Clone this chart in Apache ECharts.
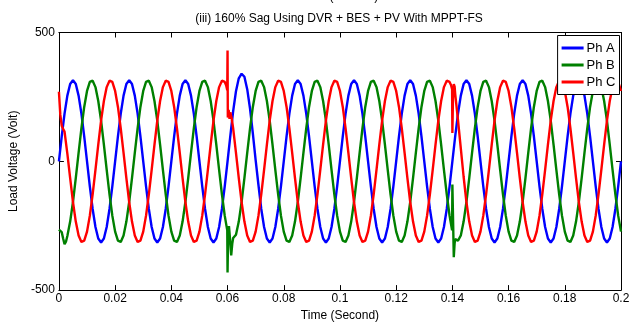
<!DOCTYPE html>
<html>
<head>
<meta charset="utf-8">
<script src="https://cdn.jsdelivr.net/npm/echarts@6/dist/echarts.min.js"></script>
<style>
  html, body { margin: 0; padding: 0; background: #fff; }
  #chart { width: 635px; height: 327px; }
</style>
</head>
<body>
<div id="chart"></div>
<script>
// Load voltages, one sample per millisecond from t = 0 to t = 0.2 s (Volt)
const SAMPLE_STEP = 0.001;

const phA = [
  0,97,185,255,300,315,300,255,185,97,0,-97,-185,-255,-300,-315,-300,-255,-185,-97,
  0,97,185,255,300,315,300,255,185,97,0,-97,-185,-255,-300,-315,-300,-255,-185,-97,
  0,97,185,255,300,315,300,255,185,97,0,-97,-185,-255,-300,-315,-300,-255,-185,-97,
  0,100,195,272,322,340,328,280,205,108,5,-92,-185,-255,-300,-315,-300,-255,-185,-97,
  0,97,185,255,300,315,300,255,185,97,0,-97,-185,-255,-300,-315,-300,-255,-185,-97,
  0,97,185,255,300,315,300,255,185,97,0,-97,-185,-255,-300,-315,-300,-255,-185,-97,
  0,97,185,255,300,315,300,255,185,97,0,-97,-185,-255,-300,-315,-300,-255,-185,-97,
  0,97,185,255,300,315,300,255,185,97,0,-97,-185,-255,-300,-315,-300,-255,-185,-97,
  0,97,185,255,300,315,300,255,185,97,0,-97,-185,-255,-300,-315,-300,-255,-185,-97,
  0,97,185,255,300,315,300,255,185,97,0,-97,-185,-255,-300,-315,-300,-255,-185,-97,
  0
];

const phB = [
  -265,-275,-322,-290,-234,-158,-65,33,128,211,273,308,313,288,234,158,65,-33,-128,-211,
  -273,-308,-313,-288,-234,-158,-65,33,128,211,273,308,313,288,234,158,65,-33,-128,-211,
  -273,-308,-313,-288,-234,-158,-65,33,128,211,273,308,313,288,234,158,65,-33,-128,-211,
  -432,-320,-298,-285,-234,-158,-65,33,128,211,273,308,313,288,234,158,65,-33,-128,-211,
  -273,-308,-313,-288,-234,-158,-65,33,128,211,273,308,313,288,234,158,65,-33,-128,-211,
  -273,-308,-313,-288,-234,-158,-65,33,128,211,273,308,313,288,234,158,65,-33,-128,-211,
  -273,-308,-313,-288,-234,-158,-65,33,128,211,273,308,313,288,234,158,65,-33,-128,-211,
  -90,-302,-308,-288,-234,-158,-65,33,128,211,273,308,313,288,234,158,65,-33,-128,-211,
  -273,-308,-313,-288,-234,-158,-65,33,128,211,273,308,313,288,234,158,65,-33,-128,-211,
  -273,-308,-313,-288,-234,-158,-65,33,128,211,273,308,313,288,234,158,65,-33,-128,-211,
  -273
];

const phC = [
  270,138,115,30,-65,-158,-234,-288,-313,-308,-273,-211,-128,-33,65,158,234,288,313,308,
  273,211,128,33,-65,-158,-234,-288,-313,-308,-273,-211,-128,-33,65,158,234,288,313,308,
  273,211,128,33,-65,-158,-234,-288,-313,-308,-273,-211,-128,-33,65,158,234,288,313,308,
  430,190,128,33,-65,-158,-234,-288,-313,-308,-273,-211,-128,-33,65,158,234,288,313,308,
  273,211,128,33,-65,-158,-234,-288,-313,-308,-273,-211,-128,-33,65,158,234,288,313,308,
  273,211,128,33,-65,-158,-234,-288,-313,-308,-273,-211,-128,-33,65,158,234,288,313,308,
  273,211,128,33,-65,-158,-234,-288,-313,-308,-273,-211,-128,-33,65,158,234,288,313,308,
  110,262,160,50,-60,-158,-234,-288,-313,-308,-273,-211,-128,-33,65,158,234,288,313,308,
  273,211,128,33,-65,-158,-234,-288,-313,-308,-273,-211,-128,-33,65,158,234,288,313,308,
  273,211,128,33,-65,-158,-234,-288,-313,-308,-273,-211,-128,-33,65,158,234,288,313,308,
  273
];

// Finer samples around start-up and the switching events at 0.06 s and 0.14 s: [time, volts]
const phAExtra = [];
const phBExtra = [
  [0.0005,-262],[0.0015,-300],[0.0025,-312],
  [0.0595,-243],[0.0599,-268],[0.0602,-290],[0.0605,-252],[0.0608,-290],[0.0613,-365],[0.0617,-318],
  [0.1395,-243],[0.1399,-268],[0.1402,-200],[0.1405,-372],[0.1408,-318],[0.1415,-305]
];
const phCExtra = [
  [0.0005,180],[0.0015,125],
  [0.0595,295],[0.0599,276],[0.0601,170],[0.0604,200],[0.0607,165],[0.0615,165],
  [0.1395,296],[0.1399,280],[0.1402,240],[0.1405,300],[0.1408,290]
];

const seriesNames = ['Ph A', 'Ph B', 'Ph C'];
const seriesColors = ['#0000ff', '#008000', '#ff0000'];
const xTicks = { min: 0, max: 0.2, step: 0.02 };
const yTicks = { min: -500, max: 500, step: 500 };

const FONT = '"Liberation Sans", Arial, sans-serif';

function buildSeries(base, extra) {
  const pts = base.map((v, i) => [+(i * SAMPLE_STEP).toFixed(4), v]).concat(extra);
  pts.sort((a, b) => a[0] - b[0]);
  return pts;
}

const chart = echarts.init(document.getElementById('chart'), null, { renderer: 'canvas' });

const axisLine = { show: true, onZero: false, lineStyle: { color: '#000', width: 1 } };
const tickIn = { show: true, inside: true, length: 5, lineStyle: { color: '#000', width: 1 } };

const option = {
  animation: false,
  backgroundColor: '#fff',
  grid: { left: 57.5, right: 14, top: 32.5, bottom: 31.5, containLabel: false },
  graphic: [
    { type: 'text', x: 339, y: -3, style: { text: 'Time (Second)', font: '12px ' + FONT, fill: '#000', textAlign: 'center', textVerticalAlign: 'middle' } },
    { type: 'text', x: 339, y: 18.5, style: { text: '(iii) 160% Sag Using DVR + BES + PV With MPPT-FS', font: '12px ' + FONT, fill: '#000', textAlign: 'center', textVerticalAlign: 'middle' } }
  ],
  legend: {
    data: seriesNames,
    orient: 'vertical',
    right: 15.5,
    top: 35.5,
    icon: 'rect',
    itemWidth: 22,
    itemHeight: 3,
    itemGap: 4,
    padding: [6, 4, 6, 4],
    backgroundColor: '#fff',
    borderColor: '#000',
    borderWidth: 1,
    borderRadius: 0,
    textStyle: { fontFamily: FONT, fontSize: 13, color: '#000', padding: [0, 0, 0, -2] }
  },
  xAxis: [
    {
      type: 'value', position: 'bottom', min: xTicks.min, max: xTicks.max, interval: xTicks.step,
      name: 'Time (Second)', nameLocation: 'middle', nameGap: 18,
      nameTextStyle: { fontFamily: FONT, fontSize: 12, color: '#000' },
      axisLine, axisTick: tickIn, splitLine: { show: false },
      axisLabel: { margin: 3, fontFamily: FONT, fontSize: 12, color: '#000', formatter: v => String(+v.toFixed(2)) }
    },
    {
      type: 'value', position: 'top', min: xTicks.min, max: xTicks.max, interval: xTicks.step,
      axisLine, axisTick: tickIn, splitLine: { show: false }, axisLabel: { show: false }
    }
  ],
  yAxis: [
    {
      type: 'value', position: 'left', min: yTicks.min, max: yTicks.max, interval: yTicks.step,
      name: 'Load Voltage (Volt)', nameLocation: 'middle', nameGap: 37,
      nameTextStyle: { fontFamily: FONT, fontSize: 12, color: '#000' },
      axisLine, axisTick: tickIn, splitLine: { show: false },
      axisLabel: { margin: 4, fontFamily: FONT, fontSize: 12, color: '#000' }
    },
    {
      type: 'value', position: 'right', min: yTicks.min, max: yTicks.max, interval: yTicks.step,
      axisLine, axisTick: tickIn, splitLine: { show: false }, axisLabel: { show: false }
    }
  ],
  series: [
    { name: seriesNames[0], type: 'line', data: buildSeries(phA, phAExtra) },
    { name: seriesNames[1], type: 'line', data: buildSeries(phB, phBExtra) },
    { name: seriesNames[2], type: 'line', data: buildSeries(phC, phCExtra) }
  ].map((s, i) => Object.assign(s, {
    showSymbol: false,
    symbol: 'none',
    clip: true,
    color: seriesColors[i],
    lineStyle: { color: seriesColors[i], width: 2.4 },
    emphasis: { disabled: true }
  }))
};

chart.setOption(option);
</script>
</body>
</html>
